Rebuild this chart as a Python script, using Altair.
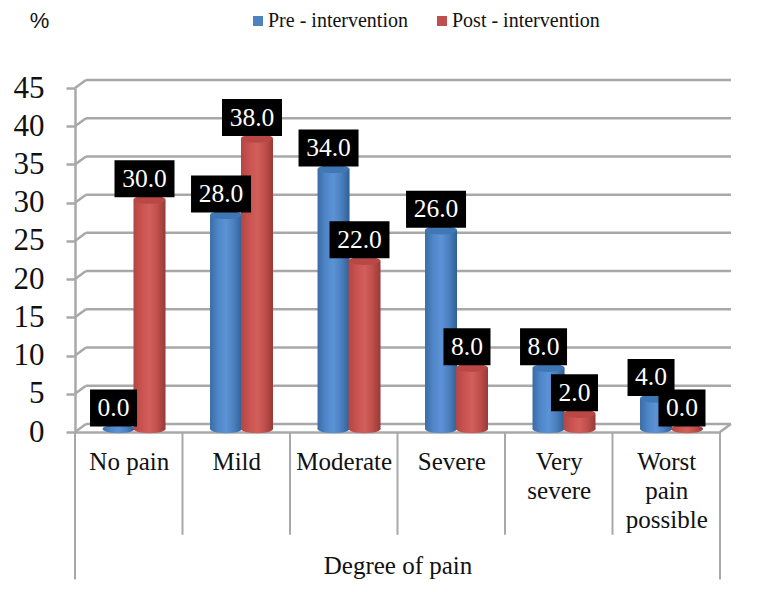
import json
import altair as alt
import pandas as pd

categories = ["No pain", "Mild", "Moderate", "Severe", "Very severe", "Worst pain possible"]
axis_lines = ["No pain", "Mild", "Moderate", "Severe", "Very\nsevere", "Worst\npain\npossible"]
pre_values = [0.0, 28.0, 34.0, 26.0, 8.0, 4.0]
post_values = [30.0, 38.0, 22.0, 8.0, 2.0, 0.0]
series_names = ["Pre - intervention", "Post - intervention"]
y_ticks = [0, 5, 10, 15, 20, 25, 30, 35, 40, 45]
x_title = "Degree of pain"
y_title = "%"

FONT = "Liberation Serif"
GRID = "#a8a8a8"
BLUE_STOPS = ["#3a6ca6", "#4f86c8", "#5c93d6", "#4a7fbe", "#2f5f96"]
RED_STOPS = ["#b04744", "#c9524f", "#d25f5b", "#c04e4b", "#963a38"]
TOP = ["#3f76b4", "#b94744"]
LEGEND_COLORS = ["#4f81bd", "#c0504d"]

HALF = 0.149            # half a cylinder, in category widths
SHIFT = 0.049           # depth shift of the bars
GAP = 0.144             # distance from the group centre
DX = 0.102              # depth of the wall in category widths
DY = 1.05               # depth of the wall in value units
ELLIPSE = "M-1,0 A1,0.26 0 1,1 1,0 A1,0.26 0 1,1 -1,0 Z"

rows = []
for s, (name, vals, sign) in enumerate(zip(series_names, [pre_values, post_values], [-1, 1])):
    for k, (c, v) in enumerate(zip(categories, vals)):
        cx = k + 0.5 + SHIFT + sign * GAP
        rows.append(dict(cat=c, series=name, s=s, v=v, cx=cx, x0=cx - HALF, x1=cx + HALF, zero=0,
                         label=f"{v:.1f}"))
df = pd.DataFrame(rows)

label_expr = "split(" + json.dumps(axis_lines) + "[floor(datum.value)], '\\n')"

xs = alt.Scale(domain=[0, 6], nice=False, zero=False)
ys = alt.Scale(domain=[0, 45], nice=False)
x_axis = alt.Axis(values=[k + 0.5 for k in range(6)], labelExpr=label_expr, grid=False,
                  ticks=False, domain=True, domainColor=GRID, domainWidth=2.5,
                  labelFont=FONT, labelFontSize=25, labelColor="#111", labelPadding=17,
                  labelLineHeight=29, labelAngle=0, labelAlign="center", labelBaseline="top",
                  labelOverlap=False, labelFlush=False,
                  titleFont=FONT, titleFontSize=25, titleFontWeight="normal", titleColor="#111",
                  titleX=322.5, titleY=133, titleBaseline="middle", titleAlign="center")
y_axis = alt.Axis(values=y_ticks, tickCount=10, grid=False, domain=True, domainColor=GRID, domainWidth=2.5,
                  tickColor=GRID, tickWidth=2.5, tickSize=9, labelPadding=22, labelOverlap=False,
                  labelFont=FONT, labelFontSize=31, labelColor="#111",
                  titleFont="Liberation Sans", titleFontSize=22, titleFontWeight="normal",
                  titleColor="#111", titleAngle=0, titleX=-36, titleY=-68,
                  titleAlign="center", titleBaseline="middle")
X = lambda f: alt.X(f, type="quantitative", scale=xs, title=x_title, axis=x_axis)
Y = lambda f: alt.Y(f, type="quantitative", scale=ys, title=y_title, axis=y_axis)

ticks = pd.DataFrame({"t": y_ticks})
ticks["xa"] = 0.0
ticks["xb"] = DX
ticks["xc"] = 6 + DX
ticks["ty"] = ticks["t"] + DY

wall = alt.Chart(ticks).mark_rule(color=GRID, strokeWidth=2.5).encode(
    x=X("xb"), x2="xc", y=Y("ty"))
diag = alt.Chart(ticks).mark_rule(color=GRID, strokeWidth=2.5).encode(
    x=X("xa"), x2="xb", y=Y("t"), y2="ty")
right_diag = alt.Chart(pd.DataFrame({"a": [6.0], "b": [6 + DX], "c": [0.0], "d": [DY]})).mark_rule(
    color=GRID, strokeWidth=2.5).encode(x=X("a"), x2="b", y=Y("c"), y2="d")

inner = alt.Chart(pd.DataFrame({"k": [1, 2, 3, 4, 5], "y0": 0, "y1": -13.45})).mark_rule(
    color=GRID, strokeWidth=2).encode(x=X("k"), y=Y("y0"), y2="y1")
outer = alt.Chart(pd.DataFrame({"k": [0, 6], "y0": 0, "y1": -19.3})).mark_rule(
    color=GRID, strokeWidth=2).encode(x=X("k"), y=Y("y0"), y2="y1")


def gradient(stops):
    n = len(stops) - 1
    return alt.Gradient(gradient="linear", x1=0, x2=1, y1=0, y2=0,
                        stops=[alt.GradientStop(offset=i / n, color=c) for i, c in enumerate(stops)])


def cylinder(name, stops, top):
    base = alt.Chart(df[df.series == name])
    foot = base.mark_point(shape=ELLIPSE, size=1024, filled=True, opacity=1, fill=gradient(stops),
                           strokeWidth=0, yOffset=-3).encode(x=X("cx"), y=Y("zero"))
    body = base.transform_filter("datum.v > 0").mark_bar(fill=gradient(stops), yOffset=-3, y2Offset=-3).encode(
        x=X("x0"), x2="x1", y=Y("v"), y2="zero")
    cap = base.transform_filter("datum.v > 0").mark_point(shape=ELLIPSE, size=1024, filled=True, opacity=1,
                                                          fill=top, strokeWidth=0, yOffset=-3).encode(
        x=X("cx"), y=Y("v"))
    return [foot, body, cap]


legend_layer = alt.Chart(df).mark_square(size=0, opacity=1).encode(
    x=X("cx"), y=Y("zero"),
    color=alt.Color("series:N", scale=alt.Scale(domain=series_names, range=LEGEND_COLORS),
                    legend=alt.Legend(orient="none", legendX=173, legendY=-77, direction="horizontal",
                                      title=None, symbolType="square", symbolSize=100, symbolOpacity=1,
                                      labelFont=FONT, labelFontSize=20, labelColor="#111",
                                      columnPadding=24, labelOffset=0)),
)

layers = [wall, diag, right_diag, inner, outer]
layers += cylinder(series_names[0], BLUE_STOPS, TOP[0])
layers += cylinder(series_names[1], RED_STOPS, TOP[1])
layers.append(legend_layer)

for s in [0, 1]:
    d = alt.Chart(df[df.s == s])
    layers.append(d.transform_filter("datum.v >= 10").mark_rect(color="#000", width=60, height=37,
                                                                xOffset=-5, yOffset=-24).encode(x=X("cx"), y=Y("v")))
    layers.append(d.transform_filter("datum.v < 10").mark_rect(color="#000", width=47, height=37,
                                                               xOffset=-5, yOffset=-24).encode(x=X("cx"), y=Y("v")))
    layers.append(d.mark_text(color="#fff", font=FONT, fontSize=25.5, xOffset=-5, yOffset=-24,
                              baseline="middle").encode(x=X("cx"), y=Y("v"), text="label:N"))

chart = alt.layer(*layers).properties(
    width=645, height=344,
    padding={"left": 67, "top": 80, "right": 33, "bottom": 152},
    autosize=alt.AutoSizeParams(type="none"),
).configure_view(stroke=None)

chart.save("out.html", embed_options={"renderer": "svg", "actions": False})
